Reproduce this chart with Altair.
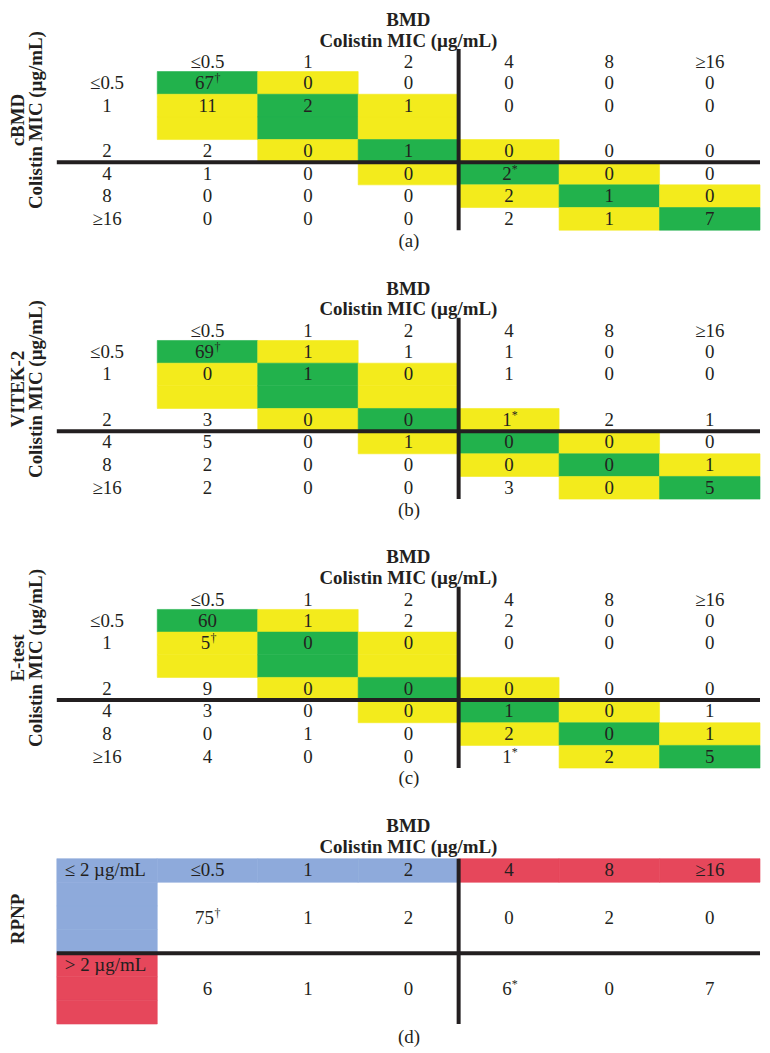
import altair as alt
import pandas as pd

# ---------------- data ----------------
MIC = ["≤0.5", "1", "2", "4", "8", "≥16"]
RPNP_ROWS = ["≤ 2 µg/mL", "> 2 µg/mL"]

CBMD = [[67, 0, 0, 0, 0, 0],
        [11, 2, 1, 0, 0, 0],
        [2, 0, 1, 0, 0, 0],
        [1, 0, 0, 2, 0, 0],
        [0, 0, 0, 2, 1, 0],
        [0, 0, 0, 2, 1, 7]]
CBMD_SUP = {(0, 0): "†", (3, 3): "*"}

VITEK = [[69, 1, 1, 1, 0, 0],
         [0, 1, 0, 1, 0, 0],
         [3, 0, 0, 1, 2, 1],
         [5, 0, 1, 0, 0, 0],
         [2, 0, 0, 0, 0, 1],
         [2, 0, 0, 3, 0, 5]]
VITEK_SUP = {(0, 0): "†", (2, 3): "*"}

ETEST = [[60, 1, 2, 2, 0, 0],
         [5, 0, 0, 0, 0, 0],
         [9, 0, 0, 0, 0, 0],
         [3, 0, 0, 1, 0, 1],
         [0, 1, 0, 2, 0, 1],
         [4, 0, 0, 1, 2, 5]]
ETEST_SUP = {(1, 0): "†", (5, 3): "*"}

RPNP = [[75, 1, 2, 0, 2, 0],
        [6, 1, 0, 6, 0, 7]]
RPNP_SUP = {(0, 0): "†", (1, 3): "*"}

TOP_TITLE = ["BMD", "Colistin MIC (µg/mL)"]

# ---------------- style / layout ----------------
FONT = "Liberation Serif"
INK = "#231f20"
GREEN, YELLOW, BLUE, RED = "#22b24c", "#f3eb1c", "#8eaadb", "#e6475b"
FS = 19
W = 706
H_ABC = 182
H_D = 166
LBL = "lbl"
XDOM = [LBL] + MIC
YDOM_ABC = ["hdr", "≤0.5", "1", "1b", "2", "4", "8", "≥16"]
YDOM_D = ["hdr", "a1", "a2", "a3", "b1", "b2", "b3"]
D_ROWKEYS = ["a2", "b2"]


def make_panel(vals, sups, ytitle, letter, mode):
    abc = mode == "abc"
    ydom = YDOM_ABC if abc else YDOM_D
    H = H_ABC if abc else H_D
    rect_recs, text_recs = [], []

    if abc:
        rowkeys = MIC
        for i, rk in enumerate(MIC):
            for j, c in enumerate(MIC):
                d = abs(i - j)
                if d <= 1:
                    cls = "green" if d == 0 else "yellow"
                    rect_recs.append({"row": rk, "col": c, "cls": cls})
                    if rk == "1":
                        rect_recs.append({"row": "1b", "col": c, "cls": cls})
        for c in MIC:
            text_recs.append({"row": "hdr", "col": c, "txt": c, "kind": "hdr"})
        for rk in MIC:
            text_recs.append({"row": rk, "col": LBL, "txt": rk, "kind": "plain"})
        hline_row = "4"
    else:
        rowkeys = D_ROWKEYS
        for c in XDOM:
            cls = "blue" if c in (LBL, "≤0.5", "1", "2") else "red"
            rect_recs.append({"row": "hdr", "col": c, "cls": cls})
        for rk in ["a1", "a2", "a3"]:
            rect_recs.append({"row": rk, "col": LBL, "cls": "blue"})
        for rk in ["b1", "b2", "b3"]:
            rect_recs.append({"row": rk, "col": LBL, "cls": "red"})
        for c in MIC:
            text_recs.append({"row": "hdr", "col": c, "txt": c, "kind": "plain"})
        text_recs.append({"row": "hdr", "col": LBL, "txt": RPNP_ROWS[0], "kind": "left"})
        text_recs.append({"row": "b1", "col": LBL, "txt": RPNP_ROWS[1], "kind": "left"})
        hline_row = "b1"

    for i, rk in enumerate(rowkeys):
        for j, c in enumerate(MIC):
            t = str(vals[i][j])
            if (i, j) in sups:
                n = len(t)
                text_recs.append({"row": rk, "col": c, "txt": t, "kind": f"n{n}"})
                text_recs.append({"row": rk, "col": c, "txt": sups[(i, j)], "kind": f"s{n}"})
            else:
                text_recs.append({"row": rk, "col": c, "txt": t, "kind": "plain"})

    rect_df = pd.DataFrame(rect_recs)
    text_df = pd.DataFrame(text_recs)

    xaxis = alt.Axis(title=letter, labels=False, ticks=False, domain=False, grid=False,
                     titleFont=FONT, titleFontSize=FS, titleFontWeight="normal",
                     titleColor=INK, titlePadding=1 if abc else 4)
    yaxis = alt.Axis(title=ytitle, labels=False, ticks=False, domain=False, grid=False,
                     titleFont=FONT, titleFontSize=FS, titleFontWeight="bold",
                     titleColor=INK, titleLineHeight=18,
                     titlePadding=11 if abc else 29,
                     titleY=71 if abc else 60)
    xs = alt.Scale(domain=XDOM, paddingInner=0, paddingOuter=0)
    ys = alt.Scale(domain=ydom, paddingInner=0, paddingOuter=0)
    cscale = alt.Scale(domain=["green", "yellow", "blue", "red"],
                       range=[GREEN, YELLOW, BLUE, RED])

    def X(**kw):
        return alt.X("col:N", scale=xs, axis=xaxis, **kw)

    def Y(**kw):
        return alt.Y("row:N", scale=ys, axis=yaxis, sort=ydom, **kw)

    rects = alt.Chart(rect_df).mark_rect(strokeWidth=0.6).encode(
        x=X(), y=Y(),
        color=alt.Color("cls:N", legend=None, scale=cscale),
        stroke=alt.Stroke("cls:N", legend=None, scale=cscale))

    tbase = alt.Chart(text_df)

    def tl(kind, **mk):
        props = dict(font=FONT, fontSize=FS, color=INK, baseline="middle", align="center")
        props.update(mk)
        enc = dict(x=X(), y=Y(), text="txt:N")
        if kind == "left":
            enc["x"] = X(bandPosition=0)
        return tbase.transform_filter(alt.datum.kind == kind).mark_text(**props).encode(**enc)

    layers = [rects,
              tl("plain"),
              tl("hdr", dy=2),
              tl("n2", dx=-3),
              tl("n1", dx=-2),
              tl("s2", fontSize=12, align="left", dx=7, dy=-5),
              tl("s1", fontSize=12, align="left", dx=3, dy=-5)]
    if not abc:
        layers.append(tl("left", align="left", dx=8))

    vline = alt.Chart(pd.DataFrame({"col": ["4"]})).mark_rule(
        strokeWidth=4, color=INK).encode(x=X(bandPosition=0))
    hline = alt.Chart(pd.DataFrame({"row": [hline_row]})).mark_rule(
        strokeWidth=4, color=INK).encode(y=Y(bandPosition=0))
    layers += [vline, hline]

    return alt.layer(*layers).properties(
        width=W, height=H,
        title=alt.TitleParams(text=TOP_TITLE, font=FONT, fontSize=FS, fontWeight="bold",
                              color=INK, lineHeight=21,
                              offset=-20 if abc else 0, anchor="middle"))


pa = make_panel(CBMD, CBMD_SUP, ["cBMD", "Colistin MIC (µg/mL)"], "(a)", "abc")
pb = make_panel(VITEK, VITEK_SUP, ["VITEK-2", "Colistin MIC (µg/mL)"], "(b)", "abc")
pc = make_panel(ETEST, ETEST_SUP, ["E-test", "Colistin MIC (µg/mL)"], "(c)", "abc")
pd_ = make_panel(RPNP, RPNP_SUP, "RPNP", "(d)", "d")

chart = alt.vconcat(pa, pb, pc, pd_, spacing=29, padding=0,
                    background="white").configure_view(stroke=None)

chart.save("out.html", embed_options={"renderer": "svg", "actions": False})
